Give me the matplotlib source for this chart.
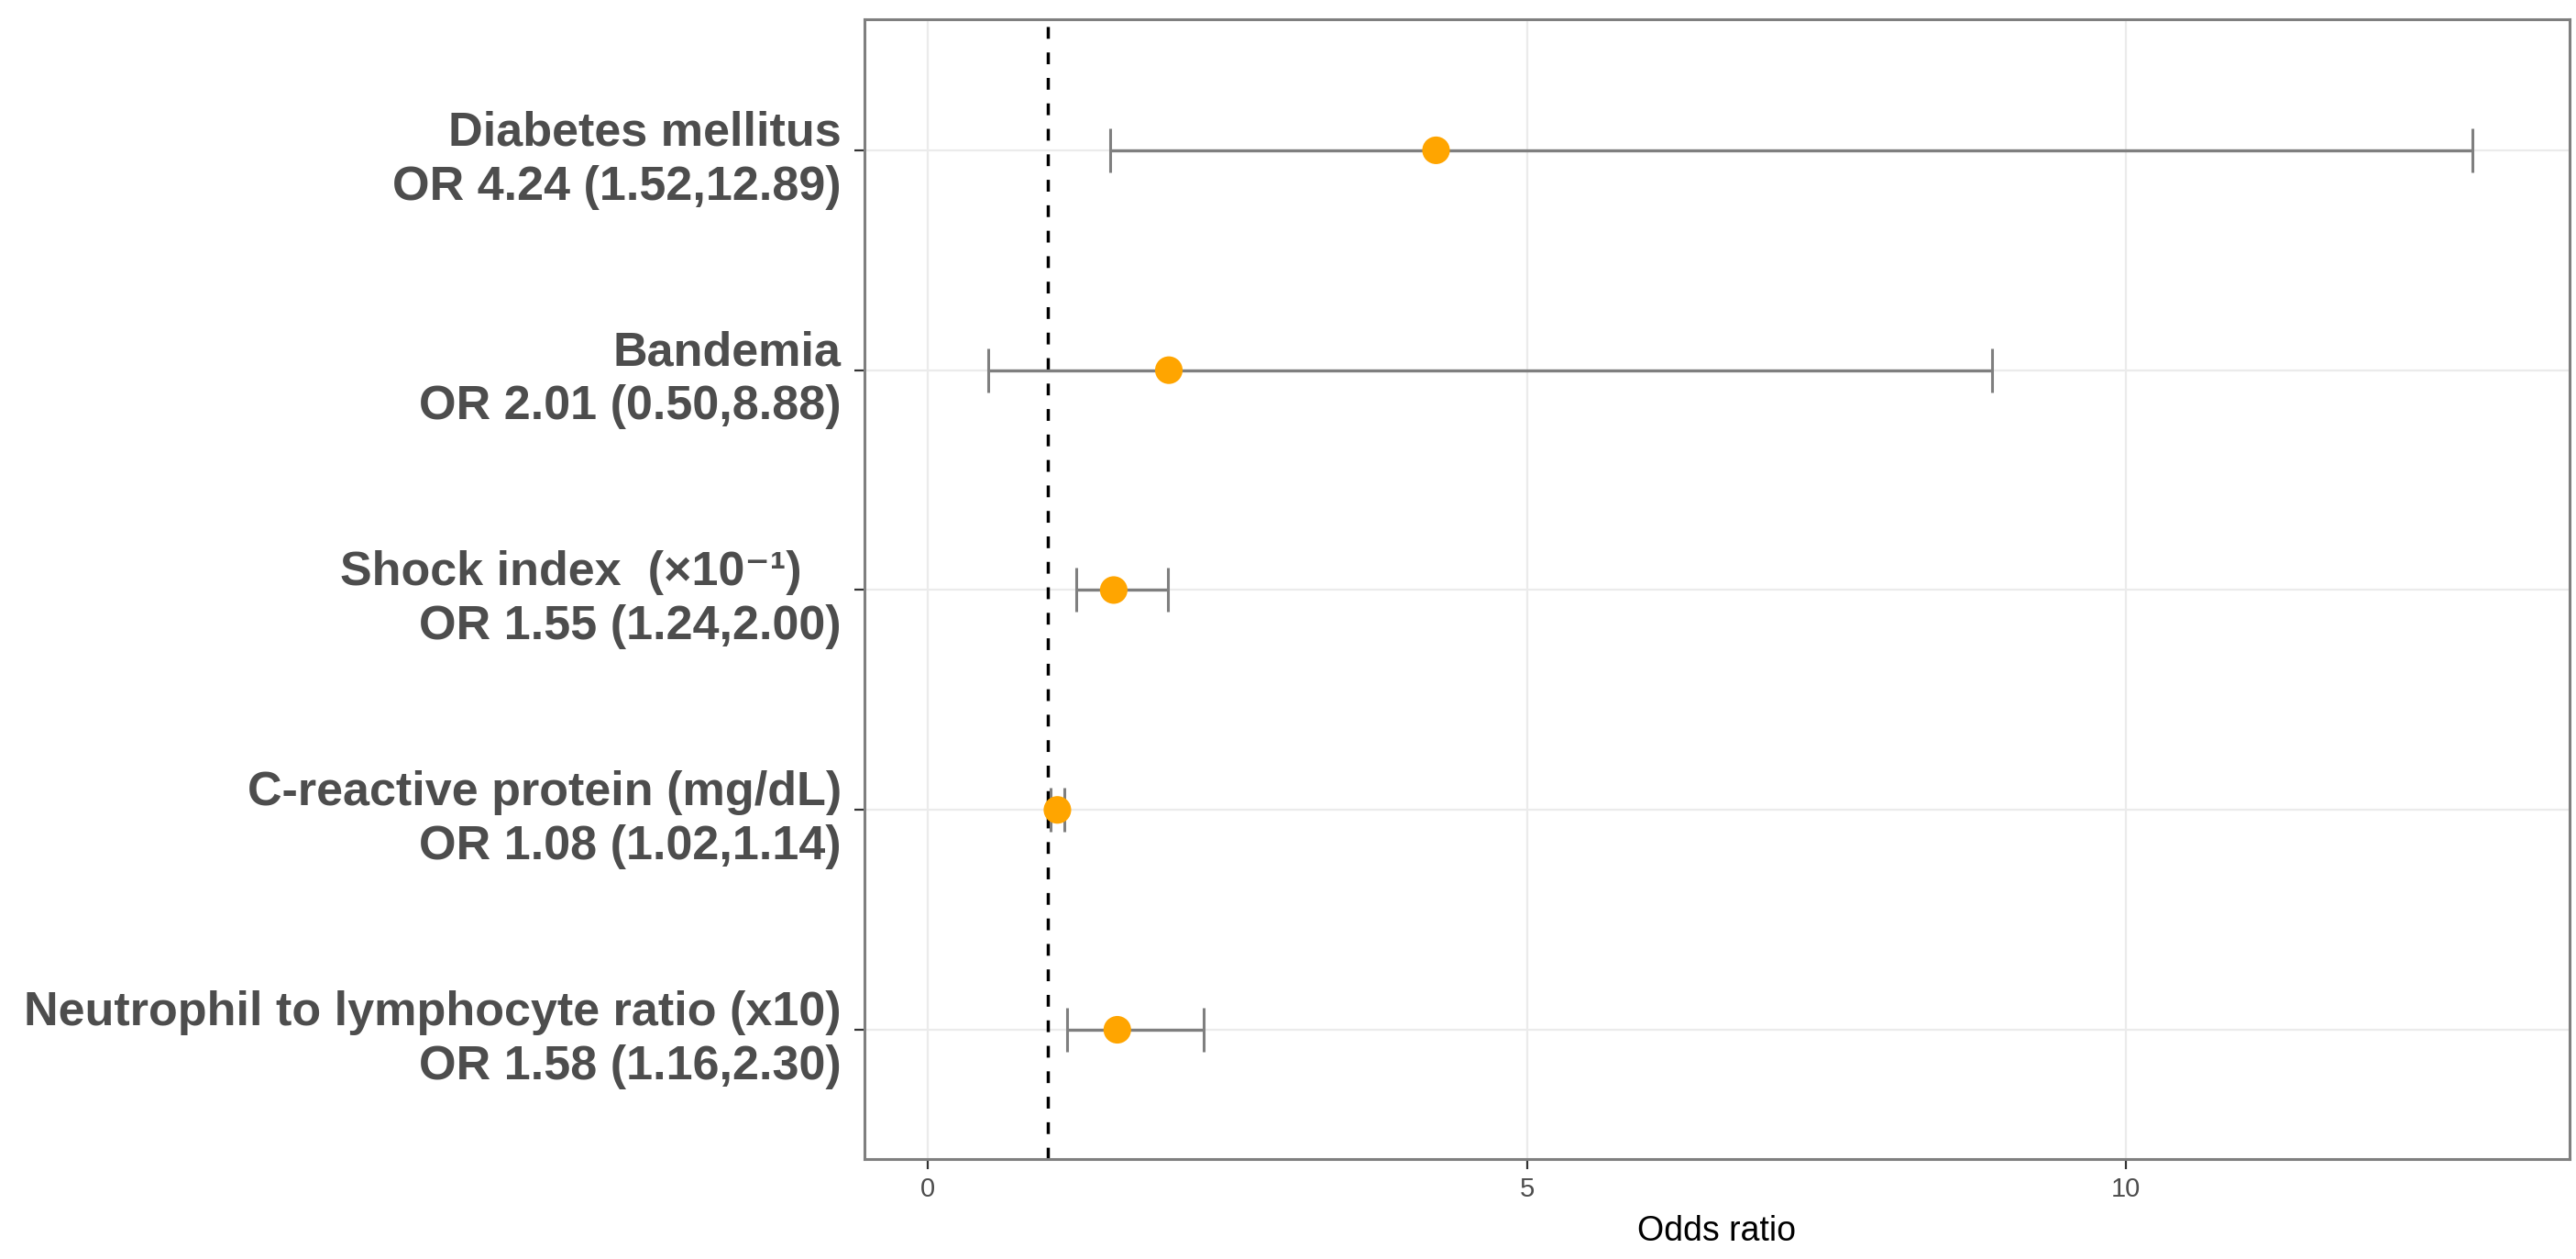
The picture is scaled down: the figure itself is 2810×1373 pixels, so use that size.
#!/usr/bin/env python3
"""Forest plot of odds ratios (recreated)."""

import matplotlib
matplotlib.use("Agg")
import matplotlib.pyplot as plt
from matplotlib.transforms import ScaledTranslation

# ----------- data -----------
labels = [
    "Diabetes mellitus\nOR 4.24 (1.52,12.89)",
    "Bandemia\nOR 2.01 (0.50,8.88)",
    "Shock index  (\u00d710\u207b\u00b9)   \nOR 1.55 (1.24,2.00)",
    "C-reactive protein (mg/dL)\nOR 1.08 (1.02,1.14)",
    "Neutrophil to lymphocyte ratio (x10)\nOR 1.58 (1.16,2.30)",
]
odds = [4.24, 2.01, 1.55, 1.08, 1.58]
lower = [1.52, 0.50, 1.24, 1.02, 1.16]
upper = [12.89, 8.88, 2.00, 1.14, 2.30]
xticks = [0, 5, 10]

plt.rcParams["font.family"] = ["Liberation Sans", "DejaVu Sans"]

W, H, DPI = 2810, 1373, 100
fig = plt.figure(figsize=(W / DPI, H / DPI), dpi=DPI)
ax = fig.add_axes([943 / W, 1 - 1264 / H, (2803 - 943) / W, (1264 - 21) / H])

ypos = list(range(len(labels), 0, -1))  # top row first

# grid (ggplot theme_bw style)
ax.set_axisbelow(True)
ax.grid(True, color="#EBEBEB", linewidth=1.6)

# reference line at OR = 1
ax.axvline(1, color="black", linestyle=(0, (3.7, 4.3)), linewidth=2.5, zorder=2)

# CI bars
ax.errorbar(odds, ypos, xerr=[[o - l for o, l in zip(odds, lower)],
                              [u - o for o, u in zip(odds, upper)]],
            fmt="none", ecolor="#7F7F7F", elinewidth=2.4, capsize=17.3,
            capthick=2.2, zorder=3)
ax.scatter(odds, ypos, s=470, color="#FFA500", edgecolors="none", zorder=4)

ax.set_xlim(-0.53, 13.70)
ax.set_ylim(0.412, 5.596)
ax.set_xticks(xticks)
ax.set_yticks(ypos)
ax.set_yticklabels(labels, fontsize=37.5, fontweight="bold", color="#4D4D4D",
                   linespacing=1.27)
# nudge the two-line labels up a little so they centre on the tick
shift = ScaledTranslation(0, 0.05, fig.dpi_scale_trans)
for lab in ax.get_yticklabels():
    lab.set_transform(lab.get_transform() + shift)

ax.tick_params(axis="x", labelsize=21, labelcolor="#4D4D4D", color="#333333",
               length=8, width=1.6, pad=6)
ax.tick_params(axis="y", color="#333333", length=8, width=1.6, pad=10)
ax.set_xlabel("Odds ratio", fontsize=27, color="black", labelpad=10)

for s in ax.spines.values():
    s.set_color("#7F7F7F")
    s.set_linewidth(2.2)

fig.savefig("out.png", dpi=DPI)
